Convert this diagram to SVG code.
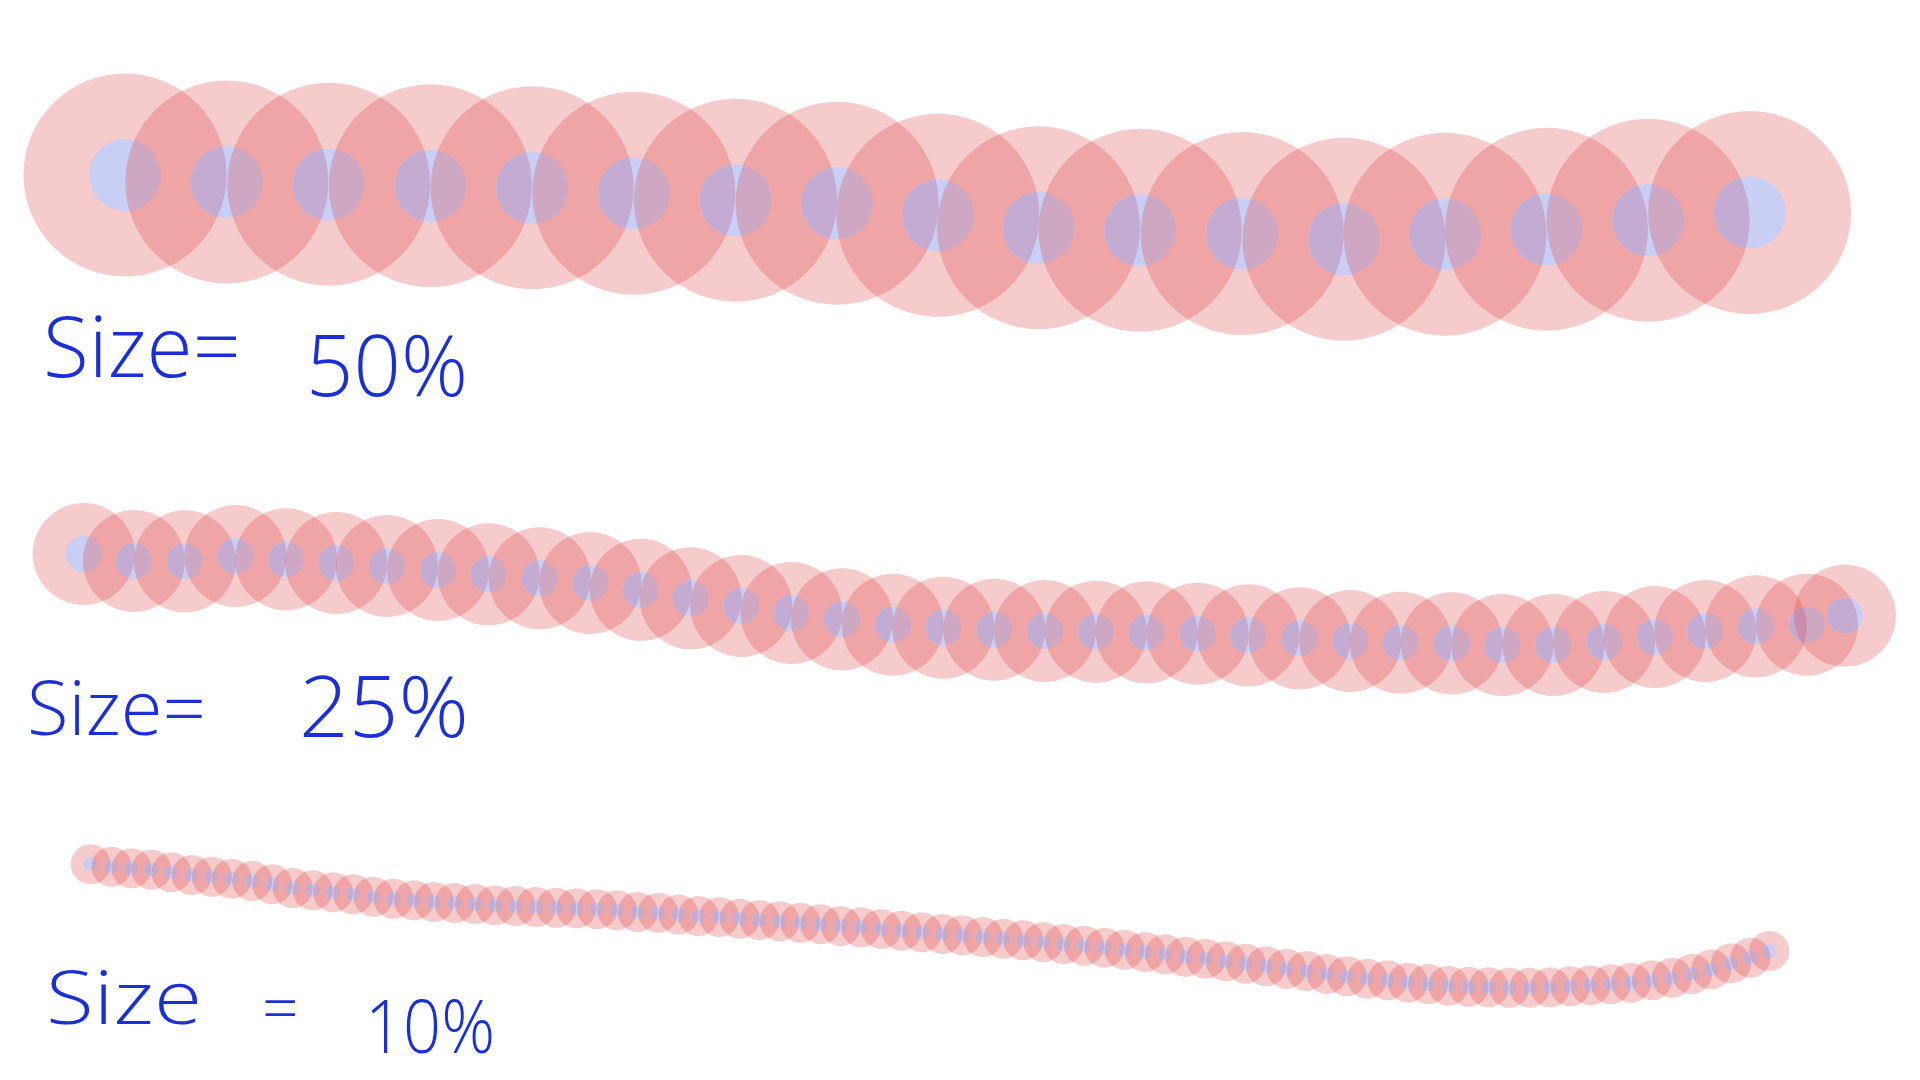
<svg xmlns="http://www.w3.org/2000/svg" xmlns:xlink="http://www.w3.org/1999/xlink" width="1920" height="1080" viewBox="0 0 1920 1080">
<style>
.rd{fill:#de3e3e;fill-opacity:.27}
.bl{fill:#c9cef4}
.pa{fill:#c4abd1}
.hw{font-family:"Open Sans","Liberation Sans",sans-serif;fill:#1a30d6;font-weight:300}
</style>
<defs>
<clipPath id="ka2"><use href="#a1"/></clipPath><clipPath id="ka3"><use href="#a2"/></clipPath><clipPath id="ka4"><use href="#a3"/></clipPath><clipPath id="ka5"><use href="#a4"/></clipPath><clipPath id="ka6"><use href="#a5"/></clipPath><clipPath id="ka7"><use href="#a6"/></clipPath><clipPath id="ka8"><use href="#a7"/></clipPath><clipPath id="ka9"><use href="#a8"/></clipPath><clipPath id="ka10"><use href="#a9"/></clipPath><clipPath id="ka11"><use href="#a10"/></clipPath><clipPath id="ka12"><use href="#a11"/></clipPath><clipPath id="ka13"><use href="#a12"/></clipPath><clipPath id="ka14"><use href="#a13"/></clipPath><clipPath id="ka15"><use href="#a14"/></clipPath><clipPath id="ka16"><use href="#a15"/></clipPath><clipPath id="ka17"><use href="#a16"/></clipPath>
<clipPath id="kb2"><use href="#b1"/></clipPath><clipPath id="kb3"><use href="#b2"/></clipPath><clipPath id="kb4"><use href="#b3"/></clipPath><clipPath id="kb5"><use href="#b4"/></clipPath><clipPath id="kb6"><use href="#b5"/></clipPath><clipPath id="kb7"><use href="#b6"/></clipPath><clipPath id="kb8"><use href="#b7"/></clipPath><clipPath id="kb9"><use href="#b8"/></clipPath><clipPath id="kb10"><use href="#b9"/></clipPath><clipPath id="kb11"><use href="#b10"/></clipPath><clipPath id="kb12"><use href="#b11"/></clipPath><clipPath id="kb13"><use href="#b12"/></clipPath><clipPath id="kb14"><use href="#b13"/></clipPath><clipPath id="kb15"><use href="#b14"/></clipPath><clipPath id="kb16"><use href="#b15"/></clipPath><clipPath id="kb17"><use href="#b16"/></clipPath><clipPath id="kb18"><use href="#b17"/></clipPath><clipPath id="kb19"><use href="#b18"/></clipPath><clipPath id="kb20"><use href="#b19"/></clipPath><clipPath id="kb21"><use href="#b20"/></clipPath><clipPath id="kb22"><use href="#b21"/></clipPath><clipPath id="kb23"><use href="#b22"/></clipPath><clipPath id="kb24"><use href="#b23"/></clipPath><clipPath id="kb25"><use href="#b24"/></clipPath><clipPath id="kb26"><use href="#b25"/></clipPath><clipPath id="kb27"><use href="#b26"/></clipPath><clipPath id="kb28"><use href="#b27"/></clipPath><clipPath id="kb29"><use href="#b28"/></clipPath><clipPath id="kb30"><use href="#b29"/></clipPath><clipPath id="kb31"><use href="#b30"/></clipPath><clipPath id="kb32"><use href="#b31"/></clipPath><clipPath id="kb33"><use href="#b32"/></clipPath><clipPath id="kb34"><use href="#b33"/></clipPath><clipPath id="kb35"><use href="#b34"/></clipPath><clipPath id="kb36"><use href="#b35"/></clipPath>
<clipPath id="kc2"><use href="#c1"/></clipPath><clipPath id="kc3"><use href="#c2"/></clipPath><clipPath id="kc4"><use href="#c3"/></clipPath><clipPath id="kc5"><use href="#c4"/></clipPath><clipPath id="kc6"><use href="#c5"/></clipPath><clipPath id="kc7"><use href="#c6"/></clipPath><clipPath id="kc8"><use href="#c7"/></clipPath><clipPath id="kc9"><use href="#c8"/></clipPath><clipPath id="kc10"><use href="#c9"/></clipPath><clipPath id="kc11"><use href="#c10"/></clipPath><clipPath id="kc12"><use href="#c11"/></clipPath><clipPath id="kc13"><use href="#c12"/></clipPath><clipPath id="kc14"><use href="#c13"/></clipPath><clipPath id="kc15"><use href="#c14"/></clipPath><clipPath id="kc16"><use href="#c15"/></clipPath><clipPath id="kc17"><use href="#c16"/></clipPath><clipPath id="kc18"><use href="#c17"/></clipPath><clipPath id="kc19"><use href="#c18"/></clipPath><clipPath id="kc20"><use href="#c19"/></clipPath><clipPath id="kc21"><use href="#c20"/></clipPath><clipPath id="kc22"><use href="#c21"/></clipPath><clipPath id="kc23"><use href="#c22"/></clipPath><clipPath id="kc24"><use href="#c23"/></clipPath><clipPath id="kc25"><use href="#c24"/></clipPath><clipPath id="kc26"><use href="#c25"/></clipPath><clipPath id="kc27"><use href="#c26"/></clipPath><clipPath id="kc28"><use href="#c27"/></clipPath><clipPath id="kc29"><use href="#c28"/></clipPath><clipPath id="kc30"><use href="#c29"/></clipPath><clipPath id="kc31"><use href="#c30"/></clipPath><clipPath id="kc32"><use href="#c31"/></clipPath><clipPath id="kc33"><use href="#c32"/></clipPath><clipPath id="kc34"><use href="#c33"/></clipPath><clipPath id="kc35"><use href="#c34"/></clipPath><clipPath id="kc36"><use href="#c35"/></clipPath><clipPath id="kc37"><use href="#c36"/></clipPath><clipPath id="kc38"><use href="#c37"/></clipPath><clipPath id="kc39"><use href="#c38"/></clipPath><clipPath id="kc40"><use href="#c39"/></clipPath><clipPath id="kc41"><use href="#c40"/></clipPath><clipPath id="kc42"><use href="#c41"/></clipPath><clipPath id="kc43"><use href="#c42"/></clipPath><clipPath id="kc44"><use href="#c43"/></clipPath><clipPath id="kc45"><use href="#c44"/></clipPath><clipPath id="kc46"><use href="#c45"/></clipPath><clipPath id="kc47"><use href="#c46"/></clipPath><clipPath id="kc48"><use href="#c47"/></clipPath><clipPath id="kc49"><use href="#c48"/></clipPath><clipPath id="kc50"><use href="#c49"/></clipPath><clipPath id="kc51"><use href="#c50"/></clipPath><clipPath id="kc52"><use href="#c51"/></clipPath><clipPath id="kc53"><use href="#c52"/></clipPath><clipPath id="kc54"><use href="#c53"/></clipPath><clipPath id="kc55"><use href="#c54"/></clipPath><clipPath id="kc56"><use href="#c55"/></clipPath><clipPath id="kc57"><use href="#c56"/></clipPath><clipPath id="kc58"><use href="#c57"/></clipPath><clipPath id="kc59"><use href="#c58"/></clipPath><clipPath id="kc60"><use href="#c59"/></clipPath><clipPath id="kc61"><use href="#c60"/></clipPath><clipPath id="kc62"><use href="#c61"/></clipPath><clipPath id="kc63"><use href="#c62"/></clipPath><clipPath id="kc64"><use href="#c63"/></clipPath><clipPath id="kc65"><use href="#c64"/></clipPath><clipPath id="kc66"><use href="#c65"/></clipPath><clipPath id="kc67"><use href="#c66"/></clipPath><clipPath id="kc68"><use href="#c67"/></clipPath><clipPath id="kc69"><use href="#c68"/></clipPath><clipPath id="kc70"><use href="#c69"/></clipPath><clipPath id="kc71"><use href="#c70"/></clipPath><clipPath id="kc72"><use href="#c71"/></clipPath><clipPath id="kc73"><use href="#c72"/></clipPath><clipPath id="kc74"><use href="#c73"/></clipPath><clipPath id="kc75"><use href="#c74"/></clipPath><clipPath id="kc76"><use href="#c75"/></clipPath><clipPath id="kc77"><use href="#c76"/></clipPath><clipPath id="kc78"><use href="#c77"/></clipPath><clipPath id="kc79"><use href="#c78"/></clipPath><clipPath id="kc80"><use href="#c79"/></clipPath><clipPath id="kc81"><use href="#c80"/></clipPath><clipPath id="kc82"><use href="#c81"/></clipPath><clipPath id="kc83"><use href="#c82"/></clipPath><clipPath id="kc84"><use href="#c83"/></clipPath>
</defs>
<rect width="1920" height="1080" fill="#ffffff"/>
<g id="stroke-50">
<circle id="a1" class="rd" cx="125" cy="175" r="101.5"/><circle class="bl" cx="125" cy="175" r="36"/>
<circle id="a2" class="rd" cx="226.8" cy="182" r="101.5"/><circle class="bl" cx="226.8" cy="182" r="36"/><circle class="pa" cx="226.8" cy="182" r="36" clip-path="url(#ka2)"/>
<circle id="a3" class="rd" cx="328.8" cy="184.3" r="101.5"/><circle class="bl" cx="328.8" cy="184.3" r="36"/><circle class="pa" cx="328.8" cy="184.3" r="36" clip-path="url(#ka3)"/>
<circle id="a4" class="rd" cx="430.4" cy="185.8" r="101.5"/><circle class="bl" cx="430.4" cy="185.8" r="36"/><circle class="pa" cx="430.4" cy="185.8" r="36" clip-path="url(#ka4)"/>
<circle id="a5" class="rd" cx="532.2" cy="187.8" r="101.5"/><circle class="bl" cx="532.2" cy="187.8" r="36"/><circle class="pa" cx="532.2" cy="187.8" r="36" clip-path="url(#ka5)"/>
<circle id="a6" class="rd" cx="633.8" cy="193.2" r="101.5"/><circle class="bl" cx="633.8" cy="193.2" r="36"/><circle class="pa" cx="633.8" cy="193.2" r="36" clip-path="url(#ka6)"/>
<circle id="a7" class="rd" cx="735.5" cy="200.2" r="101.5"/><circle class="bl" cx="735.5" cy="200.2" r="36"/><circle class="pa" cx="735.5" cy="200.2" r="36" clip-path="url(#ka7)"/>
<circle id="a8" class="rd" cx="837.1" cy="203.3" r="101.5"/><circle class="bl" cx="837.1" cy="203.3" r="36"/><circle class="pa" cx="837.1" cy="203.3" r="36" clip-path="url(#ka8)"/>
<circle id="a9" class="rd" cx="937.8" cy="215.3" r="101.5"/><circle class="bl" cx="937.8" cy="215.3" r="36"/><circle class="pa" cx="937.8" cy="215.3" r="36" clip-path="url(#ka9)"/>
<circle id="a10" class="rd" cx="1038.6" cy="227.8" r="101.5"/><circle class="bl" cx="1038.6" cy="227.8" r="36"/><circle class="pa" cx="1038.6" cy="227.8" r="36" clip-path="url(#ka10)"/>
<circle id="a11" class="rd" cx="1140.2" cy="230.2" r="101.5"/><circle class="bl" cx="1140.2" cy="230.2" r="36"/><circle class="pa" cx="1140.2" cy="230.2" r="36" clip-path="url(#ka11)"/>
<circle id="a12" class="rd" cx="1242.2" cy="233.5" r="101.5"/><circle class="bl" cx="1242.2" cy="233.5" r="36"/><circle class="pa" cx="1242.2" cy="233.5" r="36" clip-path="url(#ka12)"/>
<circle id="a13" class="rd" cx="1344" cy="239.3" r="101.5"/><circle class="bl" cx="1344" cy="239.3" r="36"/><circle class="pa" cx="1344" cy="239.3" r="36" clip-path="url(#ka13)"/>
<circle id="a14" class="rd" cx="1445" cy="234.2" r="101.5"/><circle class="bl" cx="1445" cy="234.2" r="36"/><circle class="pa" cx="1445" cy="234.2" r="36" clip-path="url(#ka14)"/>
<circle id="a15" class="rd" cx="1546.5" cy="229.3" r="101.5"/><circle class="bl" cx="1546.5" cy="229.3" r="36"/><circle class="pa" cx="1546.5" cy="229.3" r="36" clip-path="url(#ka15)"/>
<circle id="a16" class="rd" cx="1648.1" cy="220.2" r="101.5"/><circle class="bl" cx="1648.1" cy="220.2" r="36"/><circle class="pa" cx="1648.1" cy="220.2" r="36" clip-path="url(#ka16)"/>
<circle id="a17" class="rd" cx="1749.6" cy="212.5" r="101.5"/><circle class="bl" cx="1749.6" cy="212.5" r="36"/><circle class="pa" cx="1749.6" cy="212.5" r="36" clip-path="url(#ka17)"/>
</g>
<g id="stroke-25">
<circle id="b1" class="rd" cx="83.7" cy="554" r="51"/><circle class="bl" cx="83.7" cy="554" r="18"/>
<circle id="b2" class="rd" cx="133.9" cy="561" r="51"/><circle class="bl" cx="133.9" cy="561" r="18"/><circle class="pa" cx="133.9" cy="561" r="18" clip-path="url(#kb2)"/>
<circle id="b3" class="rd" cx="184.9" cy="561.3" r="51"/><circle class="bl" cx="184.9" cy="561.3" r="18"/><circle class="pa" cx="184.9" cy="561.3" r="18" clip-path="url(#kb3)"/>
<circle id="b4" class="rd" cx="235.5" cy="556" r="51"/><circle class="bl" cx="235.5" cy="556" r="18"/><circle class="pa" cx="235.5" cy="556" r="18" clip-path="url(#kb4)"/>
<circle id="b5" class="rd" cx="286.1" cy="559.3" r="51"/><circle class="bl" cx="286.1" cy="559.3" r="18"/><circle class="pa" cx="286.1" cy="559.3" r="18" clip-path="url(#kb5)"/>
<circle id="b6" class="rd" cx="336.3" cy="563" r="51"/><circle class="bl" cx="336.3" cy="563" r="18"/><circle class="pa" cx="336.3" cy="563" r="18" clip-path="url(#kb6)"/>
<circle id="b7" class="rd" cx="386.9" cy="566" r="51"/><circle class="bl" cx="386.9" cy="566" r="18"/><circle class="pa" cx="386.9" cy="566" r="18" clip-path="url(#kb7)"/>
<circle id="b8" class="rd" cx="438" cy="570" r="51"/><circle class="bl" cx="438" cy="570" r="18"/><circle class="pa" cx="438" cy="570" r="18" clip-path="url(#kb8)"/>
<circle id="b9" class="rd" cx="488.6" cy="574.3" r="51"/><circle class="bl" cx="488.6" cy="574.3" r="18"/><circle class="pa" cx="488.6" cy="574.3" r="18" clip-path="url(#kb9)"/>
<circle id="b10" class="rd" cx="539.6" cy="578.3" r="51"/><circle class="bl" cx="539.6" cy="578.3" r="18"/><circle class="pa" cx="539.6" cy="578.3" r="18" clip-path="url(#kb10)"/>
<circle id="b11" class="rd" cx="590.2" cy="583" r="51"/><circle class="bl" cx="590.2" cy="583" r="18"/><circle class="pa" cx="590.2" cy="583" r="18" clip-path="url(#kb11)"/>
<circle id="b12" class="rd" cx="640.8" cy="589.8" r="51"/><circle class="bl" cx="640.8" cy="589.8" r="18"/><circle class="pa" cx="640.8" cy="589.8" r="18" clip-path="url(#kb12)"/>
<circle id="b13" class="rd" cx="690.6" cy="598.3" r="51"/><circle class="bl" cx="690.6" cy="598.3" r="18"/><circle class="pa" cx="690.6" cy="598.3" r="18" clip-path="url(#kb13)"/>
<circle id="b14" class="rd" cx="741.2" cy="606" r="51"/><circle class="bl" cx="741.2" cy="606" r="18"/><circle class="pa" cx="741.2" cy="606" r="18" clip-path="url(#kb14)"/>
<circle id="b15" class="rd" cx="791.4" cy="613" r="51"/><circle class="bl" cx="791.4" cy="613" r="18"/><circle class="pa" cx="791.4" cy="613" r="18" clip-path="url(#kb15)"/>
<circle id="b16" class="rd" cx="842" cy="619.3" r="51"/><circle class="bl" cx="842" cy="619.3" r="18"/><circle class="pa" cx="842" cy="619.3" r="18" clip-path="url(#kb16)"/>
<circle id="b17" class="rd" cx="892.7" cy="624.7" r="51"/><circle class="bl" cx="892.7" cy="624.7" r="18"/><circle class="pa" cx="892.7" cy="624.7" r="18" clip-path="url(#kb17)"/>
<circle id="b18" class="rd" cx="943.3" cy="627.7" r="51"/><circle class="bl" cx="943.3" cy="627.7" r="18"/><circle class="pa" cx="943.3" cy="627.7" r="18" clip-path="url(#kb18)"/>
<circle id="b19" class="rd" cx="994.3" cy="629.7" r="51"/><circle class="bl" cx="994.3" cy="629.7" r="18"/><circle class="pa" cx="994.3" cy="629.7" r="18" clip-path="url(#kb19)"/>
<circle id="b20" class="rd" cx="1044.9" cy="631" r="51"/><circle class="bl" cx="1044.9" cy="631" r="18"/><circle class="pa" cx="1044.9" cy="631" r="18" clip-path="url(#kb20)"/>
<circle id="b21" class="rd" cx="1095.9" cy="631.7" r="51"/><circle class="bl" cx="1095.9" cy="631.7" r="18"/><circle class="pa" cx="1095.9" cy="631.7" r="18" clip-path="url(#kb21)"/>
<circle id="b22" class="rd" cx="1146.5" cy="632.3" r="51"/><circle class="bl" cx="1146.5" cy="632.3" r="18"/><circle class="pa" cx="1146.5" cy="632.3" r="18" clip-path="url(#kb22)"/>
<circle id="b23" class="rd" cx="1197.6" cy="633.7" r="51"/><circle class="bl" cx="1197.6" cy="633.7" r="18"/><circle class="pa" cx="1197.6" cy="633.7" r="18" clip-path="url(#kb23)"/>
<circle id="b24" class="rd" cx="1248.2" cy="635.3" r="51"/><circle class="bl" cx="1248.2" cy="635.3" r="18"/><circle class="pa" cx="1248.2" cy="635.3" r="18" clip-path="url(#kb24)"/>
<circle id="b25" class="rd" cx="1299.6" cy="638.3" r="51"/><circle class="bl" cx="1299.6" cy="638.3" r="18"/><circle class="pa" cx="1299.6" cy="638.3" r="18" clip-path="url(#kb25)"/>
<circle id="b26" class="rd" cx="1350.2" cy="641" r="51"/><circle class="bl" cx="1350.2" cy="641" r="18"/><circle class="pa" cx="1350.2" cy="641" r="18" clip-path="url(#kb26)"/>
<circle id="b27" class="rd" cx="1400.8" cy="642.7" r="51"/><circle class="bl" cx="1400.8" cy="642.7" r="18"/><circle class="pa" cx="1400.8" cy="642.7" r="18" clip-path="url(#kb27)"/>
<circle id="b28" class="rd" cx="1451.8" cy="643.3" r="51"/><circle class="bl" cx="1451.8" cy="643.3" r="18"/><circle class="pa" cx="1451.8" cy="643.3" r="18" clip-path="url(#kb28)"/>
<circle id="b29" class="rd" cx="1502.4" cy="645" r="51"/><circle class="bl" cx="1502.4" cy="645" r="18"/><circle class="pa" cx="1502.4" cy="645" r="18" clip-path="url(#kb29)"/>
<circle id="b30" class="rd" cx="1553.5" cy="645" r="51"/><circle class="bl" cx="1553.5" cy="645" r="18"/><circle class="pa" cx="1553.5" cy="645" r="18" clip-path="url(#kb30)"/>
<circle id="b31" class="rd" cx="1604.1" cy="642" r="51"/><circle class="bl" cx="1604.1" cy="642" r="18"/><circle class="pa" cx="1604.1" cy="642" r="18" clip-path="url(#kb31)"/>
<circle id="b32" class="rd" cx="1654.7" cy="637" r="51"/><circle class="bl" cx="1654.7" cy="637" r="18"/><circle class="pa" cx="1654.7" cy="637" r="18" clip-path="url(#kb32)"/>
<circle id="b33" class="rd" cx="1705.3" cy="631" r="51"/><circle class="bl" cx="1705.3" cy="631" r="18"/><circle class="pa" cx="1705.3" cy="631" r="18" clip-path="url(#kb33)"/>
<circle id="b34" class="rd" cx="1755.9" cy="626.3" r="51"/><circle class="bl" cx="1755.9" cy="626.3" r="18"/><circle class="pa" cx="1755.9" cy="626.3" r="18" clip-path="url(#kb34)"/>
<circle id="b35" class="rd" cx="1806.9" cy="624.7" r="51"/><circle class="bl" cx="1806.9" cy="624.7" r="18"/><circle class="pa" cx="1806.9" cy="624.7" r="18" clip-path="url(#kb35)"/>
<circle id="b36" class="rd" cx="1844.9" cy="615.7" r="51"/><circle class="bl" cx="1844.9" cy="615.7" r="18"/><circle class="pa" cx="1844.9" cy="615.7" r="18" clip-path="url(#kb36)"/>
</g>
<g id="stroke-10">
<circle id="c1" class="rd" cx="90.6" cy="864.3" r="20"/><circle class="bl" cx="90.6" cy="864.3" r="7"/>
<circle id="c2" class="rd" cx="111.4" cy="866.7" r="20"/><circle class="bl" cx="111.4" cy="866.7" r="7"/><circle class="pa" cx="111.4" cy="866.7" r="7" clip-path="url(#kc2)"/>
<circle id="c3" class="rd" cx="131.4" cy="868.3" r="20"/><circle class="bl" cx="131.4" cy="868.3" r="7"/><circle class="pa" cx="131.4" cy="868.3" r="7" clip-path="url(#kc3)"/>
<circle id="c4" class="rd" cx="151.4" cy="869.7" r="20"/><circle class="bl" cx="151.4" cy="869.7" r="7"/><circle class="pa" cx="151.4" cy="869.7" r="7" clip-path="url(#kc4)"/>
<circle id="c5" class="rd" cx="171.4" cy="872.3" r="20"/><circle class="bl" cx="171.4" cy="872.3" r="7"/><circle class="pa" cx="171.4" cy="872.3" r="7" clip-path="url(#kc5)"/>
<circle id="c6" class="rd" cx="191.8" cy="875" r="20"/><circle class="bl" cx="191.8" cy="875" r="7"/><circle class="pa" cx="191.8" cy="875" r="7" clip-path="url(#kc6)"/>
<circle id="c7" class="rd" cx="211.8" cy="876.7" r="20"/><circle class="bl" cx="211.8" cy="876.7" r="7"/><circle class="pa" cx="211.8" cy="876.7" r="7" clip-path="url(#kc7)"/>
<circle id="c8" class="rd" cx="231.8" cy="878.7" r="20"/><circle class="bl" cx="231.8" cy="878.7" r="7"/><circle class="pa" cx="231.8" cy="878.7" r="7" clip-path="url(#kc8)"/>
<circle id="c9" class="rd" cx="252.2" cy="881" r="20"/><circle class="bl" cx="252.2" cy="881" r="7"/><circle class="pa" cx="252.2" cy="881" r="7" clip-path="url(#kc9)"/>
<circle id="c10" class="rd" cx="272.2" cy="884.3" r="20"/><circle class="bl" cx="272.2" cy="884.3" r="7"/><circle class="pa" cx="272.2" cy="884.3" r="7" clip-path="url(#kc10)"/>
<circle id="c11" class="rd" cx="292.7" cy="888" r="20"/><circle class="bl" cx="292.7" cy="888" r="7"/><circle class="pa" cx="292.7" cy="888" r="7" clip-path="url(#kc11)"/>
<circle id="c12" class="rd" cx="312.7" cy="890.3" r="20"/><circle class="bl" cx="312.7" cy="890.3" r="7"/><circle class="pa" cx="312.7" cy="890.3" r="7" clip-path="url(#kc12)"/>
<circle id="c13" class="rd" cx="333.1" cy="892.3" r="20"/><circle class="bl" cx="333.1" cy="892.3" r="7"/><circle class="pa" cx="333.1" cy="892.3" r="7" clip-path="url(#kc13)"/>
<circle id="c14" class="rd" cx="353.1" cy="894.3" r="20"/><circle class="bl" cx="353.1" cy="894.3" r="7"/><circle class="pa" cx="353.1" cy="894.3" r="7" clip-path="url(#kc14)"/>
<circle id="c15" class="rd" cx="373.5" cy="896.7" r="20"/><circle class="bl" cx="373.5" cy="896.7" r="7"/><circle class="pa" cx="373.5" cy="896.7" r="7" clip-path="url(#kc15)"/>
<circle id="c16" class="rd" cx="393.5" cy="898.7" r="20"/><circle class="bl" cx="393.5" cy="898.7" r="7"/><circle class="pa" cx="393.5" cy="898.7" r="7" clip-path="url(#kc16)"/>
<circle id="c17" class="rd" cx="413.9" cy="900.3" r="20"/><circle class="bl" cx="413.9" cy="900.3" r="7"/><circle class="pa" cx="413.9" cy="900.3" r="7" clip-path="url(#kc17)"/>
<circle id="c18" class="rd" cx="433.9" cy="902" r="20"/><circle class="bl" cx="433.9" cy="902" r="7"/><circle class="pa" cx="433.9" cy="902" r="7" clip-path="url(#kc18)"/>
<circle id="c19" class="rd" cx="454.7" cy="903" r="20"/><circle class="bl" cx="454.7" cy="903" r="7"/><circle class="pa" cx="454.7" cy="903" r="7" clip-path="url(#kc19)"/>
<circle id="c20" class="rd" cx="475.1" cy="904" r="20"/><circle class="bl" cx="475.1" cy="904" r="7"/><circle class="pa" cx="475.1" cy="904" r="7" clip-path="url(#kc20)"/>
<circle id="c21" class="rd" cx="495.1" cy="905.3" r="20"/><circle class="bl" cx="495.1" cy="905.3" r="7"/><circle class="pa" cx="495.1" cy="905.3" r="7" clip-path="url(#kc21)"/>
<circle id="c22" class="rd" cx="515.5" cy="906" r="20"/><circle class="bl" cx="515.5" cy="906" r="7"/><circle class="pa" cx="515.5" cy="906" r="7" clip-path="url(#kc22)"/>
<circle id="c23" class="rd" cx="535.9" cy="907" r="20"/><circle class="bl" cx="535.9" cy="907" r="7"/><circle class="pa" cx="535.9" cy="907" r="7" clip-path="url(#kc23)"/>
<circle id="c24" class="rd" cx="556.3" cy="907.7" r="20"/><circle class="bl" cx="556.3" cy="907.7" r="7"/><circle class="pa" cx="556.3" cy="907.7" r="7" clip-path="url(#kc24)"/>
<circle id="c25" class="rd" cx="576.3" cy="908.3" r="20"/><circle class="bl" cx="576.3" cy="908.3" r="7"/><circle class="pa" cx="576.3" cy="908.3" r="7" clip-path="url(#kc25)"/>
<circle id="c26" class="rd" cx="597.1" cy="909.3" r="20"/><circle class="bl" cx="597.1" cy="909.3" r="7"/><circle class="pa" cx="597.1" cy="909.3" r="7" clip-path="url(#kc26)"/>
<circle id="c27" class="rd" cx="617.1" cy="910.3" r="20"/><circle class="bl" cx="617.1" cy="910.3" r="7"/><circle class="pa" cx="617.1" cy="910.3" r="7" clip-path="url(#kc27)"/>
<circle id="c28" class="rd" cx="637.6" cy="912" r="20"/><circle class="bl" cx="637.6" cy="912" r="7"/><circle class="pa" cx="637.6" cy="912" r="7" clip-path="url(#kc28)"/>
<circle id="c29" class="rd" cx="658" cy="912.7" r="20"/><circle class="bl" cx="658" cy="912.7" r="7"/><circle class="pa" cx="658" cy="912.7" r="7" clip-path="url(#kc29)"/>
<circle id="c30" class="rd" cx="678.5" cy="914.5" r="20"/><circle class="bl" cx="678.5" cy="914.5" r="7"/><circle class="pa" cx="678.5" cy="914.5" r="7" clip-path="url(#kc30)"/>
<circle id="c31" class="rd" cx="698.4" cy="916" r="20"/><circle class="bl" cx="698.4" cy="916" r="7"/><circle class="pa" cx="698.4" cy="916" r="7" clip-path="url(#kc31)"/>
<circle id="c32" class="rd" cx="719.2" cy="917" r="20"/><circle class="bl" cx="719.2" cy="917" r="7"/><circle class="pa" cx="719.2" cy="917" r="7" clip-path="url(#kc32)"/>
<circle id="c33" class="rd" cx="739.6" cy="918.7" r="20"/><circle class="bl" cx="739.6" cy="918.7" r="7"/><circle class="pa" cx="739.6" cy="918.7" r="7" clip-path="url(#kc33)"/>
<circle id="c34" class="rd" cx="759.6" cy="920" r="20"/><circle class="bl" cx="759.6" cy="920" r="7"/><circle class="pa" cx="759.6" cy="920" r="7" clip-path="url(#kc34)"/>
<circle id="c35" class="rd" cx="779.6" cy="921.3" r="20"/><circle class="bl" cx="779.6" cy="921.3" r="7"/><circle class="pa" cx="779.6" cy="921.3" r="7" clip-path="url(#kc35)"/>
<circle id="c36" class="rd" cx="800.4" cy="922.7" r="20"/><circle class="bl" cx="800.4" cy="922.7" r="7"/><circle class="pa" cx="800.4" cy="922.7" r="7" clip-path="url(#kc36)"/>
<circle id="c37" class="rd" cx="820.4" cy="924.3" r="20"/><circle class="bl" cx="820.4" cy="924.3" r="7"/><circle class="pa" cx="820.4" cy="924.3" r="7" clip-path="url(#kc37)"/>
<circle id="c38" class="rd" cx="840.8" cy="926" r="20"/><circle class="bl" cx="840.8" cy="926" r="7"/><circle class="pa" cx="840.8" cy="926" r="7" clip-path="url(#kc38)"/>
<circle id="c39" class="rd" cx="861.2" cy="927.3" r="20"/><circle class="bl" cx="861.2" cy="927.3" r="7"/><circle class="pa" cx="861.2" cy="927.3" r="7" clip-path="url(#kc39)"/>
<circle id="c40" class="rd" cx="881.2" cy="929" r="20"/><circle class="bl" cx="881.2" cy="929" r="7"/><circle class="pa" cx="881.2" cy="929" r="7" clip-path="url(#kc40)"/>
<circle id="c41" class="rd" cx="901.6" cy="930.7" r="20"/><circle class="bl" cx="901.6" cy="930.7" r="7"/><circle class="pa" cx="901.6" cy="930.7" r="7" clip-path="url(#kc41)"/>
<circle id="c42" class="rd" cx="922" cy="932.3" r="20"/><circle class="bl" cx="922" cy="932.3" r="7"/><circle class="pa" cx="922" cy="932.3" r="7" clip-path="url(#kc42)"/>
<circle id="c43" class="rd" cx="942.4" cy="934" r="20"/><circle class="bl" cx="942.4" cy="934" r="7"/><circle class="pa" cx="942.4" cy="934" r="7" clip-path="url(#kc43)"/>
<circle id="c44" class="rd" cx="962.4" cy="935.3" r="20"/><circle class="bl" cx="962.4" cy="935.3" r="7"/><circle class="pa" cx="962.4" cy="935.3" r="7" clip-path="url(#kc44)"/>
<circle id="c45" class="rd" cx="982.9" cy="937" r="20"/><circle class="bl" cx="982.9" cy="937" r="7"/><circle class="pa" cx="982.9" cy="937" r="7" clip-path="url(#kc45)"/>
<circle id="c46" class="rd" cx="1003.3" cy="938.7" r="20"/><circle class="bl" cx="1003.3" cy="938.7" r="7"/><circle class="pa" cx="1003.3" cy="938.7" r="7" clip-path="url(#kc46)"/>
<circle id="c47" class="rd" cx="1023.3" cy="940.3" r="20"/><circle class="bl" cx="1023.3" cy="940.3" r="7"/><circle class="pa" cx="1023.3" cy="940.3" r="7" clip-path="url(#kc47)"/>
<circle id="c48" class="rd" cx="1043.3" cy="942" r="20"/><circle class="bl" cx="1043.3" cy="942" r="7"/><circle class="pa" cx="1043.3" cy="942" r="7" clip-path="url(#kc48)"/>
<circle id="c49" class="rd" cx="1063.7" cy="944" r="20"/><circle class="bl" cx="1063.7" cy="944" r="7"/><circle class="pa" cx="1063.7" cy="944" r="7" clip-path="url(#kc49)"/>
<circle id="c50" class="rd" cx="1084.1" cy="945.7" r="20"/><circle class="bl" cx="1084.1" cy="945.7" r="7"/><circle class="pa" cx="1084.1" cy="945.7" r="7" clip-path="url(#kc50)"/>
<circle id="c51" class="rd" cx="1104.5" cy="947.7" r="20"/><circle class="bl" cx="1104.5" cy="947.7" r="7"/><circle class="pa" cx="1104.5" cy="947.7" r="7" clip-path="url(#kc51)"/>
<circle id="c52" class="rd" cx="1124.5" cy="949.7" r="20"/><circle class="bl" cx="1124.5" cy="949.7" r="7"/><circle class="pa" cx="1124.5" cy="949.7" r="7" clip-path="url(#kc52)"/>
<circle id="c53" class="rd" cx="1144.9" cy="952" r="20"/><circle class="bl" cx="1144.9" cy="952" r="7"/><circle class="pa" cx="1144.9" cy="952" r="7" clip-path="url(#kc53)"/>
<circle id="c54" class="rd" cx="1164.9" cy="954.3" r="20"/><circle class="bl" cx="1164.9" cy="954.3" r="7"/><circle class="pa" cx="1164.9" cy="954.3" r="7" clip-path="url(#kc54)"/>
<circle id="c55" class="rd" cx="1185.3" cy="956.7" r="20"/><circle class="bl" cx="1185.3" cy="956.7" r="7"/><circle class="pa" cx="1185.3" cy="956.7" r="7" clip-path="url(#kc55)"/>
<circle id="c56" class="rd" cx="1205.7" cy="958.7" r="20"/><circle class="bl" cx="1205.7" cy="958.7" r="7"/><circle class="pa" cx="1205.7" cy="958.7" r="7" clip-path="url(#kc56)"/>
<circle id="c57" class="rd" cx="1225.7" cy="961.3" r="20"/><circle class="bl" cx="1225.7" cy="961.3" r="7"/><circle class="pa" cx="1225.7" cy="961.3" r="7" clip-path="url(#kc57)"/>
<circle id="c58" class="rd" cx="1245.7" cy="963.7" r="20"/><circle class="bl" cx="1245.7" cy="963.7" r="7"/><circle class="pa" cx="1245.7" cy="963.7" r="7" clip-path="url(#kc58)"/>
<circle id="c59" class="rd" cx="1266.1" cy="966.3" r="20"/><circle class="bl" cx="1266.1" cy="966.3" r="7"/><circle class="pa" cx="1266.1" cy="966.3" r="7" clip-path="url(#kc59)"/>
<circle id="c60" class="rd" cx="1286.5" cy="968.7" r="20"/><circle class="bl" cx="1286.5" cy="968.7" r="7"/><circle class="pa" cx="1286.5" cy="968.7" r="7" clip-path="url(#kc60)"/>
<circle id="c61" class="rd" cx="1306.5" cy="971" r="20"/><circle class="bl" cx="1306.5" cy="971" r="7"/><circle class="pa" cx="1306.5" cy="971" r="7" clip-path="url(#kc61)"/>
<circle id="c62" class="rd" cx="1326.8" cy="974" r="20"/><circle class="bl" cx="1326.8" cy="974" r="7"/><circle class="pa" cx="1326.8" cy="974" r="7" clip-path="url(#kc62)"/>
<circle id="c63" class="rd" cx="1346.8" cy="976.3" r="20"/><circle class="bl" cx="1346.8" cy="976.3" r="7"/><circle class="pa" cx="1346.8" cy="976.3" r="7" clip-path="url(#kc63)"/>
<circle id="c64" class="rd" cx="1367.1" cy="978.7" r="20"/><circle class="bl" cx="1367.1" cy="978.7" r="7"/><circle class="pa" cx="1367.1" cy="978.7" r="7" clip-path="url(#kc64)"/>
<circle id="c65" class="rd" cx="1387.4" cy="980.3" r="20"/><circle class="bl" cx="1387.4" cy="980.3" r="7"/><circle class="pa" cx="1387.4" cy="980.3" r="7" clip-path="url(#kc65)"/>
<circle id="c66" class="rd" cx="1407.8" cy="982.7" r="20"/><circle class="bl" cx="1407.8" cy="982.7" r="7"/><circle class="pa" cx="1407.8" cy="982.7" r="7" clip-path="url(#kc66)"/>
<circle id="c67" class="rd" cx="1428.1" cy="984" r="20"/><circle class="bl" cx="1428.1" cy="984" r="7"/><circle class="pa" cx="1428.1" cy="984" r="7" clip-path="url(#kc67)"/>
<circle id="c68" class="rd" cx="1448.4" cy="985.7" r="20"/><circle class="bl" cx="1448.4" cy="985.7" r="7"/><circle class="pa" cx="1448.4" cy="985.7" r="7" clip-path="url(#kc68)"/>
<circle id="c69" class="rd" cx="1468.7" cy="986.7" r="20"/><circle class="bl" cx="1468.7" cy="986.7" r="7"/><circle class="pa" cx="1468.7" cy="986.7" r="7" clip-path="url(#kc69)"/>
<circle id="c70" class="rd" cx="1488.7" cy="987.3" r="20"/><circle class="bl" cx="1488.7" cy="987.3" r="7"/><circle class="pa" cx="1488.7" cy="987.3" r="7" clip-path="url(#kc70)"/>
<circle id="c71" class="rd" cx="1509.3" cy="987.7" r="20"/><circle class="bl" cx="1509.3" cy="987.7" r="7"/><circle class="pa" cx="1509.3" cy="987.7" r="7" clip-path="url(#kc71)"/>
<circle id="c72" class="rd" cx="1529.7" cy="987.7" r="20"/><circle class="bl" cx="1529.7" cy="987.7" r="7"/><circle class="pa" cx="1529.7" cy="987.7" r="7" clip-path="url(#kc72)"/>
<circle id="c73" class="rd" cx="1550" cy="987.3" r="20"/><circle class="bl" cx="1550" cy="987.3" r="7"/><circle class="pa" cx="1550" cy="987.3" r="7" clip-path="url(#kc73)"/>
<circle id="c74" class="rd" cx="1570.3" cy="986.3" r="20"/><circle class="bl" cx="1570.3" cy="986.3" r="7"/><circle class="pa" cx="1570.3" cy="986.3" r="7" clip-path="url(#kc74)"/>
<circle id="c75" class="rd" cx="1590.6" cy="985.3" r="20"/><circle class="bl" cx="1590.6" cy="985.3" r="7"/><circle class="pa" cx="1590.6" cy="985.3" r="7" clip-path="url(#kc75)"/>
<circle id="c76" class="rd" cx="1610.9" cy="984.3" r="20"/><circle class="bl" cx="1610.9" cy="984.3" r="7"/><circle class="pa" cx="1610.9" cy="984.3" r="7" clip-path="url(#kc76)"/>
<circle id="c77" class="rd" cx="1631.2" cy="982.7" r="20"/><circle class="bl" cx="1631.2" cy="982.7" r="7"/><circle class="pa" cx="1631.2" cy="982.7" r="7" clip-path="url(#kc77)"/>
<circle id="c78" class="rd" cx="1651.9" cy="980.3" r="20"/><circle class="bl" cx="1651.9" cy="980.3" r="7"/><circle class="pa" cx="1651.9" cy="980.3" r="7" clip-path="url(#kc78)"/>
<circle id="c79" class="rd" cx="1671.9" cy="977.7" r="20"/><circle class="bl" cx="1671.9" cy="977.7" r="7"/><circle class="pa" cx="1671.9" cy="977.7" r="7" clip-path="url(#kc79)"/>
<circle id="c80" class="rd" cx="1691.9" cy="974" r="20"/><circle class="bl" cx="1691.9" cy="974" r="7"/><circle class="pa" cx="1691.9" cy="974" r="7" clip-path="url(#kc80)"/>
<circle id="c81" class="rd" cx="1711.2" cy="969.3" r="20"/><circle class="bl" cx="1711.2" cy="969.3" r="7"/><circle class="pa" cx="1711.2" cy="969.3" r="7" clip-path="url(#kc81)"/>
<circle id="c82" class="rd" cx="1731.1" cy="963.3" r="20"/><circle class="bl" cx="1731.1" cy="963.3" r="7"/><circle class="pa" cx="1731.1" cy="963.3" r="7" clip-path="url(#kc82)"/>
<circle id="c83" class="rd" cx="1750.4" cy="957.7" r="20"/><circle class="bl" cx="1750.4" cy="957.7" r="7"/><circle class="pa" cx="1750.4" cy="957.7" r="7" clip-path="url(#kc83)"/>
<circle id="c84" class="rd" cx="1769.3" cy="951" r="20"/><circle class="bl" cx="1769.3" cy="951" r="7"/><circle class="pa" cx="1769.3" cy="951" r="7" clip-path="url(#kc84)"/>
</g>
<g id="labels" class="hw">
<text><tspan x="43" y="377" font-size="84">Size=</tspan> <tspan x="306" y="396" font-size="84" textLength="162" lengthAdjust="spacingAndGlyphs">50%</tspan></text>
<text><tspan x="27" y="735" font-size="76">Size=</tspan> <tspan x="299" y="737" font-size="84" textLength="170" lengthAdjust="spacingAndGlyphs">25%</tspan></text>
<text><tspan x="46" y="1024" font-size="74" textLength="156" lengthAdjust="spacingAndGlyphs">Size</tspan> <tspan x="262" y="1031" font-size="64">=</tspan> <tspan x="365" y="1053" font-size="74" textLength="130" lengthAdjust="spacingAndGlyphs">10%</tspan></text>
</g>
</svg>
